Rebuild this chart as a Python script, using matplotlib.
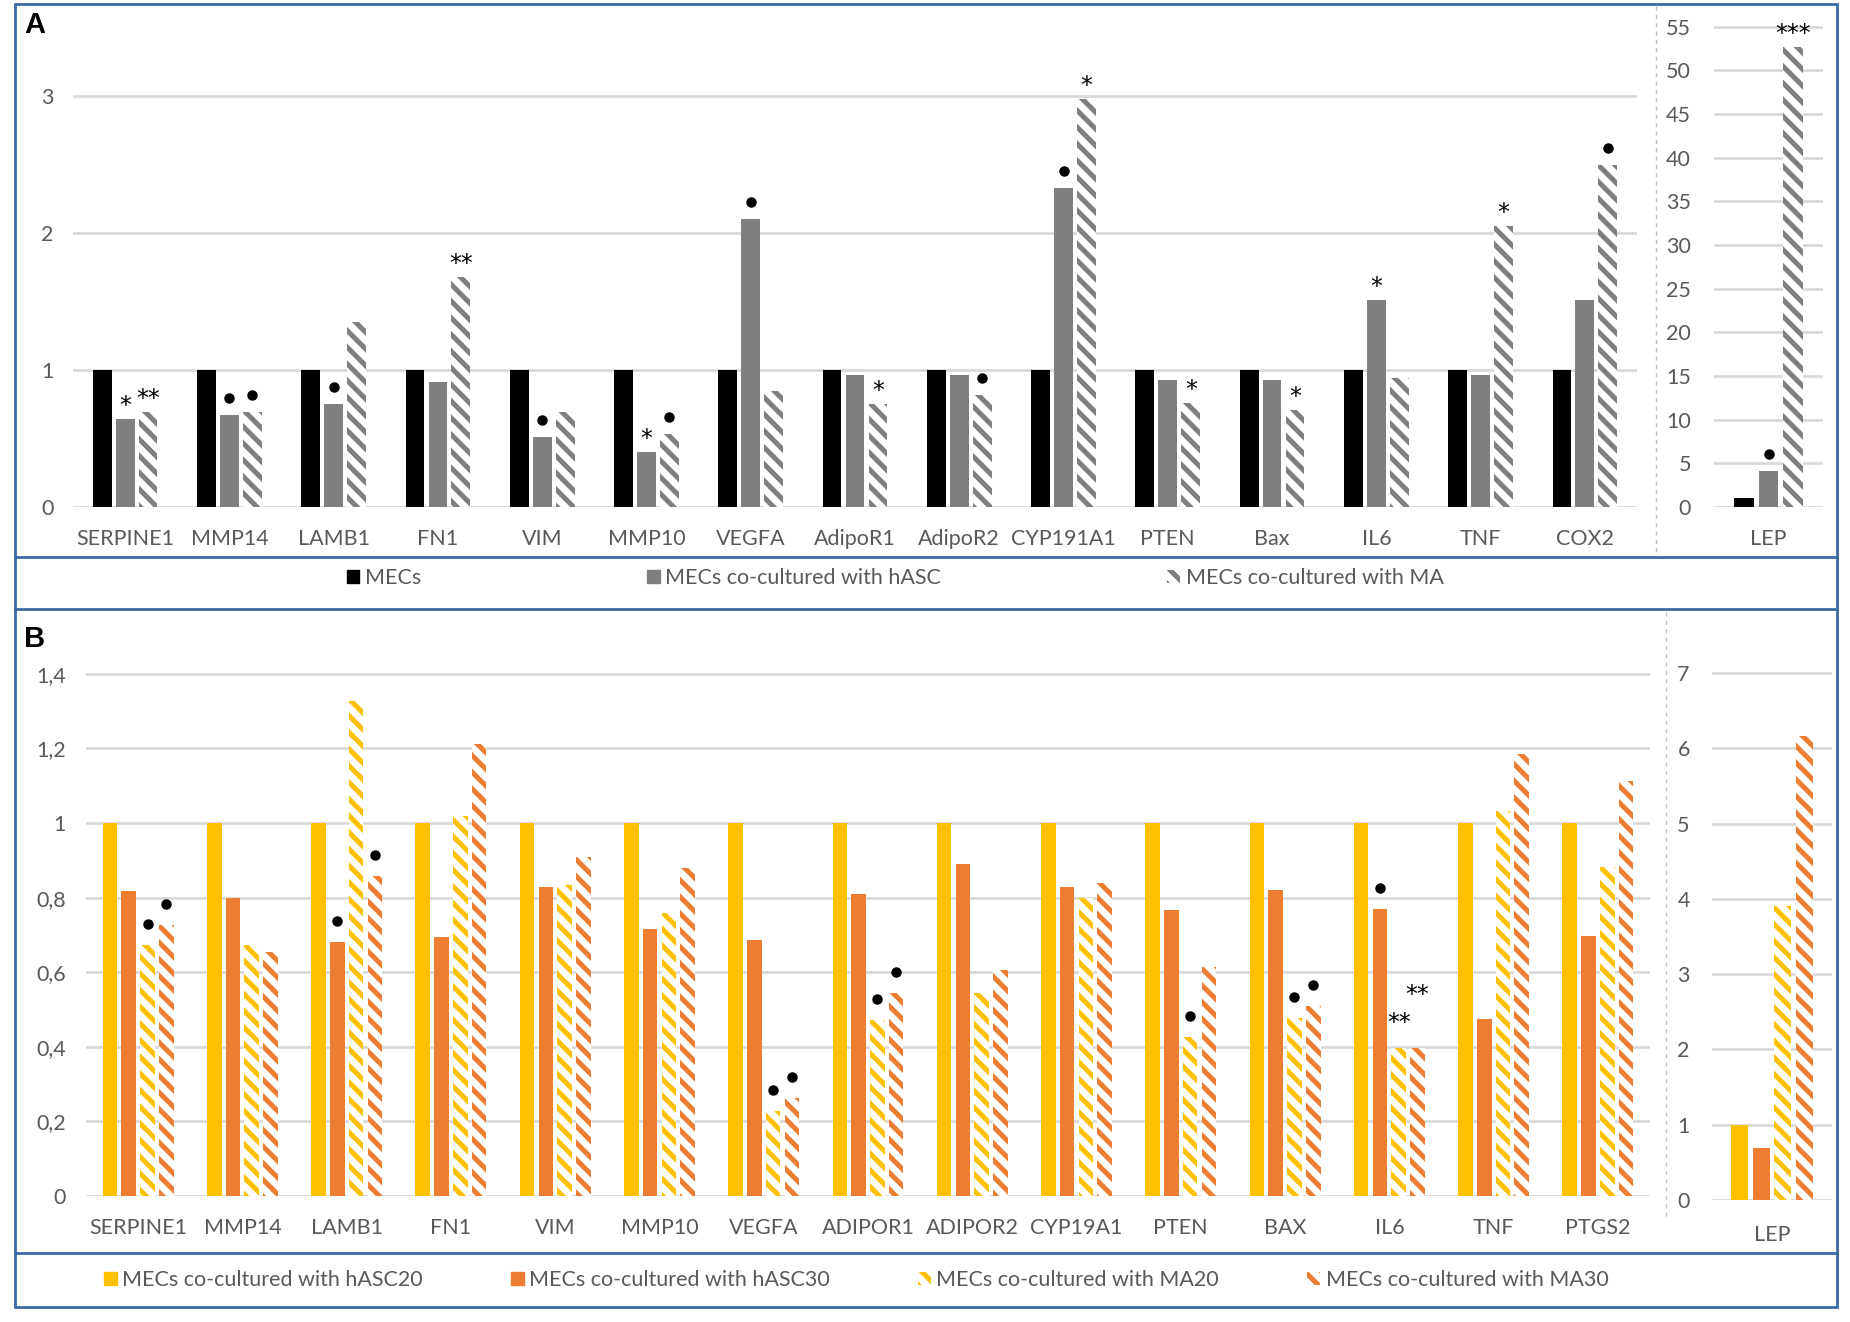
import matplotlib
matplotlib.use("Agg")
import matplotlib.pyplot as plt
from matplotlib.patches import Patch, Rectangle
from matplotlib.lines import Line2D
from matplotlib.transforms import ScaledTranslation
import numpy as np

# ---- data: panel A ----
genes_a = ['SERPINE1', 'MMP14', 'LAMB1', 'FN1', 'VIM', 'MMP10', 'VEGFA', 'AdipoR1',
           'AdipoR2', 'CYP191A1', 'PTEN', 'Bax', 'IL6', 'TNF', 'COX2']
mecs_a = [1, 1, 1, 1, 1, 1, 1, 1, 1, 1, 1, 1, 1, 1, 1]
hasc_a = [0.64, 0.67, 0.75, 0.91, 0.51, 0.40, 2.10, 0.965, 0.965, 2.33, 0.93, 0.93, 1.51, 0.965, 1.51]
ma_a = [0.69, 0.69, 1.35, 1.68, 0.69, 0.53, 0.85, 0.75, 0.82, 2.98, 0.76, 0.71, 0.945, 2.05, 2.50]
lep_a = [1.0, 4.1, 52.6]
labels_a = ['MECs', 'MECs co-cultured with hASC', 'MECs co-cultured with MA']
yticks_a = [0, 1, 2, 3]
yticks_a_lep = [0, 5, 10, 15, 20, 25, 30, 35, 40, 45, 50, 55]
# (gene index, series index, symbol)
marks_a = [(0, 1, '*'), (0, 2, '**'), (1, 1, '•'), (1, 2, '•'), (2, 1, '•'), (3, 2, '**'),
           (4, 1, '•'), (5, 1, '*'), (5, 2, '•'), (6, 1, '•'), (7, 2, '*'), (8, 2, '•'),
           (9, 1, '•'), (9, 2, '*'), (10, 2, '*'), (11, 2, '*'), (12, 1, '*'), (13, 2, '*'),
           (14, 2, '•')]
marks_a_lep = [(1, '•'), (2, '***')]

# ---- data: panel B ----
genes_b = ['SERPINE1', 'MMP14', 'LAMB1', 'FN1', 'VIM', 'MMP10', 'VEGFA', 'ADIPOR1',
           'ADIPOR2', 'CYP19A1', 'PTEN', 'BAX', 'IL6', 'TNF', 'PTGS2']
hasc20_b = [1] * 15
hasc30_b = [0.818, 0.80, 0.68, 0.694, 0.828, 0.716, 0.685, 0.809, 0.89, 0.828, 0.767, 0.821, 0.769, 0.475, 0.696]
ma20_b = [0.673, 0.673, 1.327, 1.019, 0.835, 0.759, 0.228, 0.472, 0.543, 0.80, 0.427, 0.478, 0.396, 1.031, 0.883]
ma30_b = [0.726, 0.654, 0.858, 1.212, 0.909, 0.88, 0.263, 0.543, 0.606, 0.84, 0.615, 0.509, 0.396, 1.185, 1.112]
lep_b = [1.0, 0.69, 3.91, 6.16]
labels_b = ['MECs co-cultured with hASC20', 'MECs co-cultured with hASC30',
            'MECs co-cultured with MA20', 'MECs co-cultured with MA30']
yticks_b = [0, 0.2, 0.4, 0.6, 0.8, 1.0, 1.2, 1.4]
ytick_labels_b = ['0', '0,2', '0,4', '0,6', '0,8', '1', '1,2', '1,4']
yticks_b_lep = [0, 1, 2, 3, 4, 5, 6, 7]
marks_b = [(0, 2, '•'), (0, 3, '•'), (2, 1, '•'), (2, 3, '•'), (6, 2, '•'), (6, 3, '•'),
           (7, 2, '•'), (7, 3, '•'), (10, 2, '•'), (11, 2, '•'), (11, 3, '•'),
           (12, 1, '•'), (12, 2, '**'), (12, 3, '**')]

# ---- style ----
plt.rcParams['font.family'] = ['Lato', 'DejaVu Sans']
plt.rcParams['hatch.linewidth'] = 3.6
HATCH = '\\\\'
TXT = '#595959'
GRID = '#D9D9D9'
BLUE = '#3A6AA3'
BLACK, GRAY = '#000000', '#7F7F7F'
YEL, ORA = '#FFC000', '#ED7D31'
FS = 15.5

W, H = 1850, 1322
fig = plt.figure(figsize=(W / 100, H / 100), dpi=100)


def axes_px(x0, x1, ytop, ybot):
    return fig.add_axes([x0 / W, 1 - ybot / H, (x1 - x0) / W, (ybot - ytop) / H])


def style(ax, ypad, xpad=16):
    for s in ax.spines.values():
        s.set_visible(False)
    ax.tick_params(length=0, colors=TXT, labelsize=FS)
    ax.tick_params(axis='y', pad=ypad)
    ax.tick_params(axis='x', pad=xpad)
    ax.yaxis.grid(True, color=GRID, lw=2)
    ax.set_axisbelow(True)


def mark(ax, x, y, sym, lift_px):
    if sym == '•':
        tr = ax.transData + ScaledTranslation(0, lift_px / 100, fig.dpi_scale_trans)
        ax.plot([x], [y], marker='o', ms=6.5, color='black', transform=tr, clip_on=False)
    else:
        ax.annotate(sym, xy=(x, y), xytext=(0, lift_px - 14), textcoords='offset pixels',
                    ha='center', va='baseline', fontsize=17, family='DejaVu Sans',
                    color='black', annotation_clip=False)


# ================= panel A =================
axA = axes_px(73, 1637, 21, 507)
xa = np.arange(len(genes_a))
wa, pa = 0.18, 0.22
axA.bar(xa - pa, mecs_a, wa, color=BLACK, lw=0)
axA.bar(xa, hasc_a, wa, color=GRAY, lw=0)
axA.bar(xa + pa, ma_a, wa, facecolor='white', edgecolor=GRAY, hatch=HATCH, lw=0)
axA.set_xlim(-0.5, len(genes_a) - 0.5)
axA.set_ylim(0, 486 / 137)
axA.set_yticks(yticks_a)
axA.set_xticks(xa)
axA.set_xticklabels(genes_a)
style(axA, 14)
series_a = [mecs_a, hasc_a, ma_a]
for gi, si, sym in marks_a:
    mark(axA, xa[gi] + (si - 1) * pa, series_a[si][gi], sym, 17 if sym == '•' else 20)

axAL = axes_px(1714, 1823, 20, 507)
axAL.bar([-0.225, 0], lep_a[:2], 0.18, color=[BLACK, GRAY], lw=0)
axAL.bar([0.225], lep_a[2:], 0.18, facecolor='white', edgecolor=GRAY, hatch=HATCH, lw=0)
axAL.set_xlim(-0.5, 0.5)
axAL.set_ylim(0, 487 / 8.736)
axAL.set_yticks(yticks_a_lep)
axAL.set_xticks([0])
axAL.set_xticklabels(['LEP'])
style(axAL, 16.5)
for si, sym in marks_a_lep:
    mark(axAL, (si - 1) * 0.225, lep_a[si], sym, 17 if sym == '•' else 20)

fig.legend(handles=[Patch(color=BLACK), Patch(color=GRAY),
                    Patch(facecolor='white', edgecolor=GRAY, hatch=HATCH, lw=0)],
           labels=labels_a, loc='center', bbox_to_anchor=(895 / W, 1 - 578 / H), ncol=3,
           frameon=False, fontsize=FS, labelcolor=TXT, handlelength=0.6, handleheight=0.6,
           handletextpad=0.25, columnspacing=10.5)

# ================= panel B =================
axB = axes_px(86, 1650, 660, 1196)
xb = np.arange(len(genes_b))
wb, pb = 0.14, 0.18
offs = [-1.5 * pb, -0.5 * pb, 0.5 * pb, 1.5 * pb]
axB.bar(xb + offs[0], hasc20_b, wb, color=YEL, lw=0)
axB.bar(xb + offs[1], hasc30_b, wb, color=ORA, lw=0)
axB.bar(xb + offs[2], ma20_b, wb, facecolor='white', edgecolor=YEL, hatch=HATCH, lw=0)
axB.bar(xb + offs[3], ma30_b, wb, facecolor='white', edgecolor=ORA, hatch=HATCH, lw=0)
axB.set_xlim(-0.5, len(genes_b) - 0.5)
axB.set_ylim(0, 536 / 373)
axB.set_yticks(yticks_b)
axB.set_yticklabels(ytick_labels_b)
axB.set_xticks(xb)
axB.set_xticklabels(genes_b)
style(axB, 14.5)
series_b = [hasc20_b, hasc30_b, ma20_b, ma30_b]
extra_lift = {(12, 2): 12, (12, 3): 40}
for gi, si, sym in marks_b:
    lift = (21 if sym == '•' else 20) + extra_lift.get((gi, si), 0)
    mark(axB, xb[gi] + offs[si], series_b[si][gi], sym, lift)

axBL = axes_px(1712, 1832, 660, 1200)
lep_offs = [-0.27, -0.09, 0.09, 0.27]
axBL.bar(lep_offs[:2], lep_b[:2], 0.14, color=[YEL, ORA], lw=0)
axBL.bar(lep_offs[2], lep_b[2], 0.14, facecolor='white', edgecolor=YEL, hatch=HATCH, lw=0)
axBL.bar(lep_offs[3], lep_b[3], 0.14, facecolor='white', edgecolor=ORA, hatch=HATCH, lw=0)
axBL.set_xlim(-0.5, 0.5)
axBL.set_ylim(0, 540 / 75.3)
axBL.set_yticks(yticks_b_lep)
axBL.set_xticks([0])
axBL.set_xticklabels(['LEP'])
style(axBL, 16, xpad=18)

fig.legend(handles=[Patch(color=YEL), Patch(color=ORA),
                    Patch(facecolor='white', edgecolor=YEL, hatch=HATCH, lw=0),
                    Patch(facecolor='white', edgecolor=ORA, hatch=HATCH, lw=0)],
           labels=labels_b, loc='center', bbox_to_anchor=(856 / W, 1 - 1280 / H), ncol=4,
           frameon=False, fontsize=FS, labelcolor=TXT, handlelength=0.6, handleheight=0.6,
           handletextpad=0.25, columnspacing=4.1)

# ---- frames, separators, panel letters ----
fig.add_artist(Rectangle((15 / W, 1 - 1307 / H), (1837 - 15) / W, (1307 - 4) / H,
                         transform=fig.transFigure, fill=False, edgecolor=BLUE, lw=2))
for yy in [557, 609, 1253]:
    fig.add_artist(Line2D([15 / W, 1837 / W], [1 - yy / H, 1 - yy / H],
                          transform=fig.transFigure, color=BLUE, lw=2))
fig.add_artist(Line2D([1656 / W, 1656 / W], [1 - 6 / H, 1 - 556 / H], transform=fig.transFigure,
                      color='#BFBFBF', lw=1, ls=(0, (3, 3))))
fig.add_artist(Line2D([1666 / W, 1666 / W], [1 - 612 / H, 1 - 1218 / H], transform=fig.transFigure,
                      color='#BFBFBF', lw=1, ls=(0, (3, 3))))
fig.text(24 / W, 1 - 25 / H, 'A', fontsize=21, fontweight='bold', family='Liberation Sans',
         ha='left', va='center')
fig.text(24 / W, 1 - 639 / H, 'B', fontsize=21, fontweight='bold', family='Liberation Sans',
         ha='left', va='center')

fig.savefig('out.png', dpi=100)
